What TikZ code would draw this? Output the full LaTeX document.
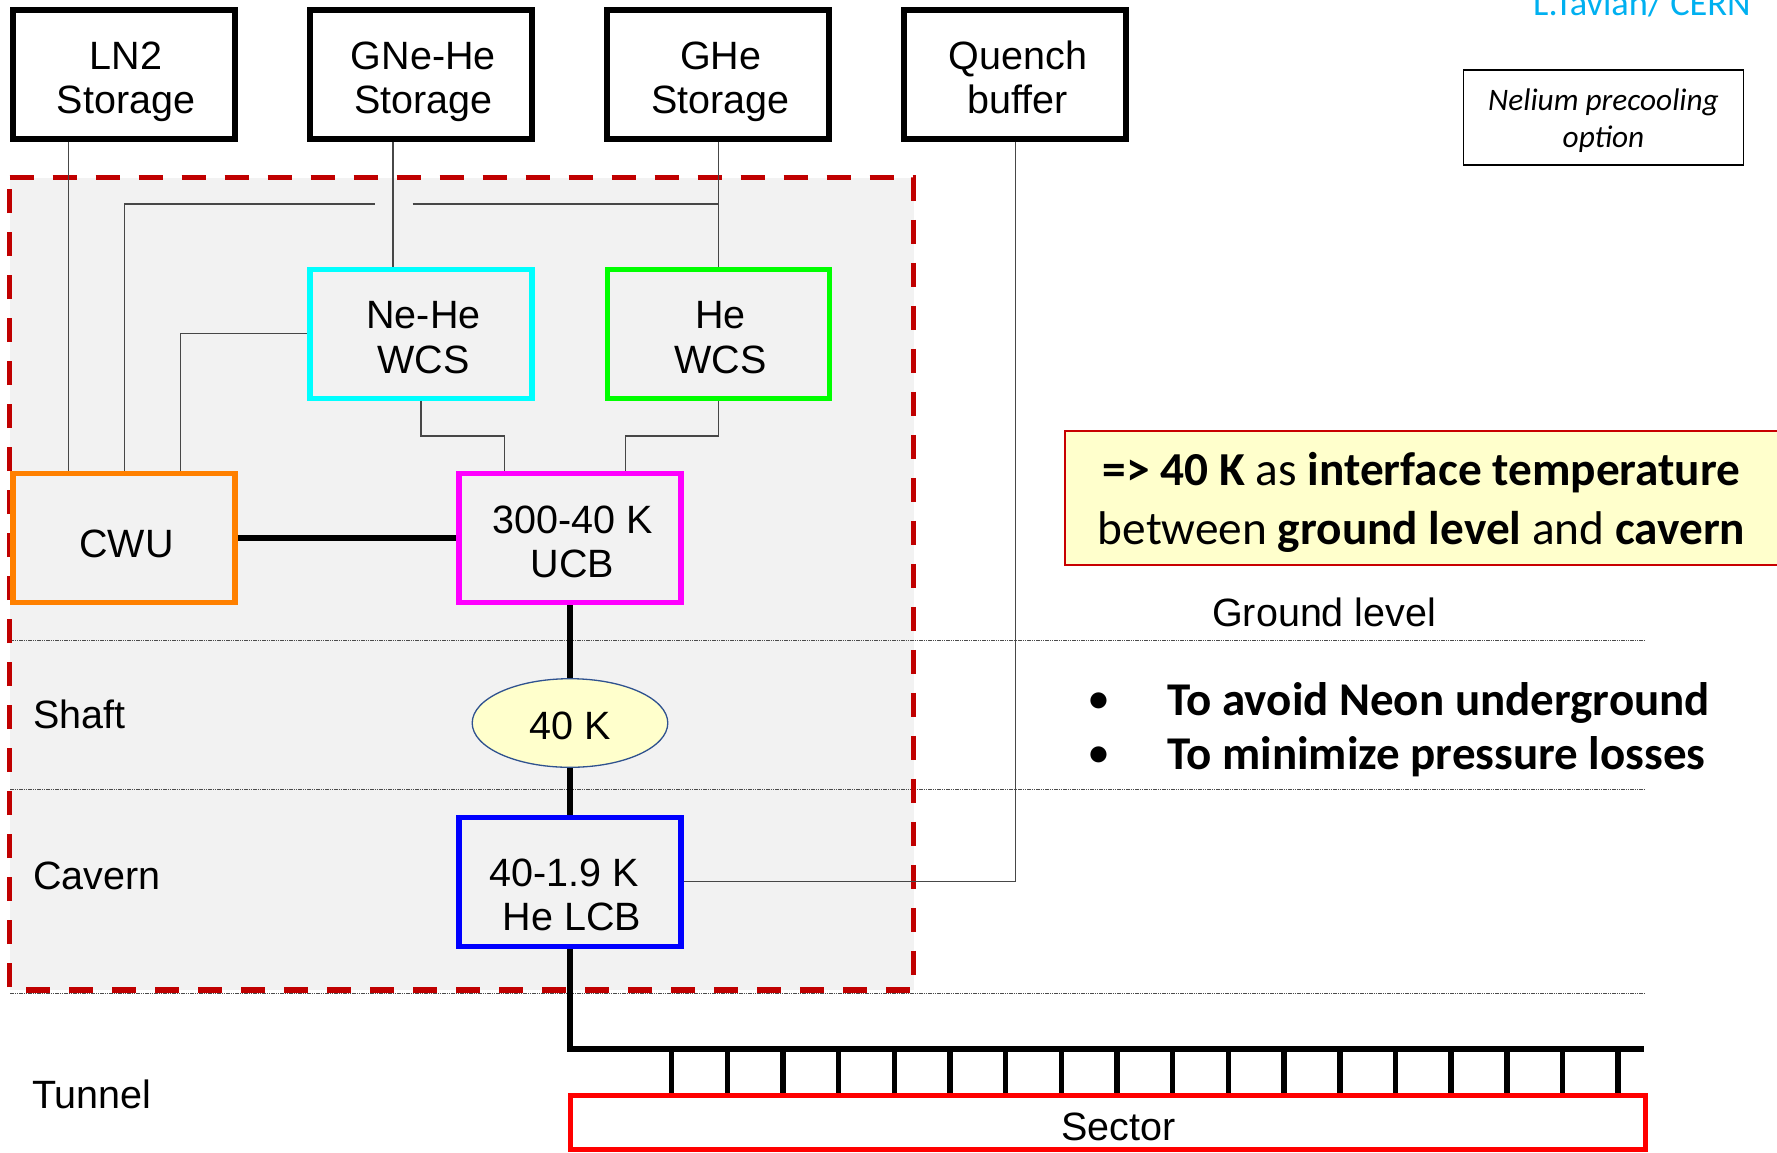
\documentclass[tikz,border=0pt]{standalone}
\usepackage{fontspec}
\setmainfont{Liberation Sans}
\newfontfamily\calfont{Carlito}
\usetikzlibrary{shapes.geometric}
\definecolor{bggray}{RGB}{242,242,242}
\definecolor{dkred}{RGB}{192,0,0}
\definecolor{orangec}{RGB}{255,128,0}
\definecolor{cyanc}{RGB}{0,255,255}
\definecolor{greenc}{RGB}{0,255,0}
\definecolor{magentac}{RGB}{255,0,255}
\definecolor{bluec}{RGB}{0,0,255}
\definecolor{redc}{RGB}{255,0,0}
\definecolor{yellowfill}{RGB}{255,255,204}
\definecolor{ellborder}{RGB}{47,82,143}
\definecolor{ybord}{RGB}{200,0,0}
\definecolor{tavblue}{RGB}{0,176,240}
\newcommand\boxfont{\fontsize{39.5}{44.5}\selectfont}
\newcommand\ybfont{\calfont\fontsize{47.3}{58.7}\selectfont}
\newcommand\nelfont{\calfont\itshape\fontsize{31.3}{36.5}\selectfont}
\newcommand\bulfont{\calfont\bfseries\fontsize{47}{56}\selectfont}
\newcommand\tpS{\rule{0pt}{43pt}\hspace*{5pt}}
\newcommand\lsp{\hspace*{5pt}}
\newcommand\btS{\rule[-8.9pt]{0pt}{8.9pt}}
\tikzset{
  sbox/.style={draw=black, line width=6pt, fill=white, minimum width=222pt, minimum height=129pt, inner sep=0pt, align=center, font=\boxfont},
  cbox/.style={sbox, line width=5.3pt, fill=bggray},
  conn/.style={line width=1.2pt, black!72},
  bus/.style={line width=6pt, black},
  tickline/.style={line width=5.5pt, black},
  lvl/.style={line width=1pt, black!70, dash pattern=on 1.5pt off 0.75pt},
  lbl/.style={inner sep=0pt, font=\boxfont},
  bul/.style={inner sep=0pt, font=\bulfont}
}
\begin{document}
\begin{tikzpicture}[x=1pt,y=-1pt]
\useasboundingbox (0,0) rectangle (1777,1152);
% shaded region
\fill[bggray] (9.6,177.7) rectangle (913.5,990);
% level lines
\foreach \yy in {640,789,993} \draw[lvl] (10,\yy) -- (1645,\yy);
% dashed border
\draw[dkred, line width=5.3pt, dash pattern=on 24pt off 19pt] (9.6,177.7) -- (913.5,177.7) -- (913.5,990) -- (9.6,990) -- cycle;

% nodes
\node[sbox] (ln2) at (123.5,74.2) {\tpS LN2\\\lsp Storage\btS};
\node[sbox] (gne) at (420.8,74.2) {\tpS GNe-He\\\lsp Storage\btS};
\node[sbox] (ghe) at (718.2,74.2) {\tpS GHe\\\lsp Storage\btS};
\node[sbox] (qb) at (1015.3,74.2) {\tpS Quench\\\lsp buffer\btS};
\node[cbox, draw=cyanc] (newcs) at (421,333.7) {\tpS Ne-He\\\lsp WCS\btS};
\node[cbox, draw=greenc] (hewcs) at (718.2,333.7) {\tpS He\\\lsp WCS\btS};
\node[cbox, draw=orangec] (cwu) at (124.1,538.3) {\rule[-2pt]{0pt}{42pt}\lsp CWU};
\node[cbox, draw=magentac] (ucb) at (570,538.3) {\tpS 300-40 K\\\lsp UCB\btS};
\node[ellipse, draw=ellborder, line width=1.3pt, fill=yellowfill, minimum width=195.6pt, minimum height=88.6pt, inner sep=0pt, font=\boxfont] (ell) at (570,723) {\rule[-2pt]{0pt}{36pt}40 K};
\node[cbox, draw=bluec] (lcb) at (570,881.8) {\rule{0pt}{54pt}40-1.9 K\hspace*{12pt}\\\hspace*{4pt}He LCB\rule[-1.1pt]{0pt}{1.1pt}};
\node[draw=redc, line width=5pt, minimum width=1075pt, minimum height=54pt, inner sep=0pt, font=\boxfont] (sector) at (1107.5,1122.5) {\hspace*{22pt}\rule[-1pt]{0pt}{37.6pt}Sector};

\node[draw=ybord, line width=2.4pt, fill=yellowfill, minimum width=712.8pt, minimum height=133.6pt, inner sep=0pt, align=center, font=\ybfont] (note) at (1421.6,498)
  {\rule{0pt}{46pt}\textbf{=> 40 K} as \textbf{interface temperature}\\between \textbf{ground level} and \textbf{cavern}\rule[-12.3pt]{0pt}{12.3pt}};
\node[draw=black, line width=1.7pt, minimum width=280pt, minimum height=95pt, inner sep=0pt, align=center, font=\nelfont] (nel) at (1603.5,117.3)
  {\rule{0pt}{30.5pt}Nelium precooling\\option\rule[-7pt]{0pt}{7pt}};
\node[anchor=base west, inner sep=0pt, font=\calfont\fontsize{36.4}{43}\selectfont, text=tavblue] (auth) at (1533,15) {L.Tavian/ CERN};

\node[lbl, anchor=base west] (shaft) at (33,728) {Shaft};
\node[lbl, anchor=base west] (cavern) at (33,889) {Cavern};
\node[lbl, anchor=base west] (tunnel) at (32,1108) {Tunnel};
\node[lbl, anchor=base west] (ground) at (1212,626) {Ground level};

\node[inner sep=0pt, font=\calfont\bfseries\fontsize{38}{44}\selectfont, anchor=base] (b1) at (1099,711) {\textbullet};
\node[inner sep=0pt, font=\calfont\bfseries\fontsize{38}{44}\selectfont, anchor=base] (b2) at (1099,765) {\textbullet};
\node[bul, anchor=base west] (t1) at (1167,715.5) {To avoid Neon underground};
\node[bul, anchor=base west] (t2) at (1167,769.5) {To minimize pressure losses};

% helper coordinates
\coordinate (xA) at (68.6,0);
\coordinate (xC) at (393,0);
\coordinate (xD) at (180.4,0);
\coordinate (gapL) at (375,204);
\coordinate (gapR) at (412.5,204);
\coordinate (m1) at (504.3,436);
\coordinate (m2) at (625.7,436);
\coordinate (busend) at (1644,1049);

% thin connectors
\draw[conn] (ln2.south -| xA) -- (cwu.north -| xA);
\draw[conn] (cwu.north) |- (gapL);
\draw[conn] (gapR) -- (gapR -| ghe.south);
\draw[conn] (ghe.south) -- (hewcs.north);
\draw[conn] (gne.south -| xC) -- (newcs.north -| xC);
\draw[conn] (cwu.north -| xD) |- (newcs.west);
\draw[conn] (newcs.south) |- (m1) -- (ucb.north -| m1);
\draw[conn] (hewcs.south) |- (m2) -- (ucb.north -| m2);
\draw[conn] (qb.south) |- (lcb.east);

% thick lines
\draw[bus] (cwu.east) -- (ucb.west);
\draw[bus] (ucb.south) -- (ell.north);
\draw[bus] (ell.south) -- (lcb.north);
\draw[bus] (lcb.south) |- (busend);
\foreach \k in {0,...,17} {
  \coordinate (tk) at ({671.7+55.67*\k},1049);
  \draw[tickline] (tk) -- (tk |- sector.north);
}
\end{tikzpicture}
\end{document}
